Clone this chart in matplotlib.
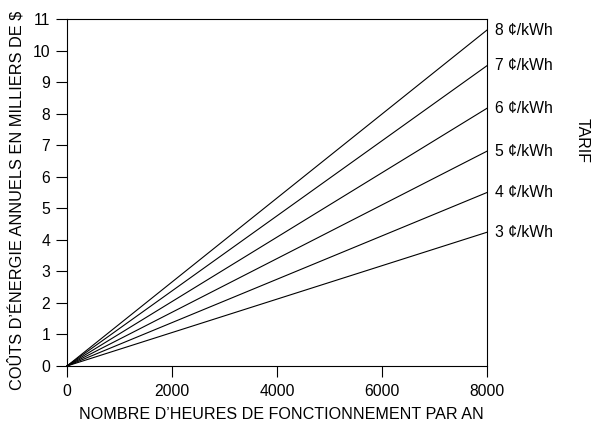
import matplotlib.pyplot as plt

plt.rcParams['font.family'] = ['Liberation Sans', 'DejaVu Sans']

# tarifs en cents/kWh et cout annuel (milliers de $) a 8000 h
tarifs = [3, 4, 5, 6, 7, 8]
couts_8000 = [4.24, 5.50, 6.81, 8.17, 9.52, 10.65]
heures = [0, 8000]

fig = plt.figure(figsize=(5.92, 4.23), dpi=100)
ax = fig.add_axes([67 / 592, 1 - 366 / 423, 420 / 592, 347 / 423])

for t, c in zip(tarifs, couts_8000):
    ax.plot(heures, [0, c], color='black', linewidth=0.8, clip_on=False)
    ax.text(8000 + 150, c, f'{t} ¢/kWh', va='center', ha='left', fontsize=11.3)

ax.set_xlim(0, 8000)
ax.set_ylim(0, 11)
ax.set_xticks([0, 2000, 4000, 6000, 8000])
ax.set_yticks(range(0, 12))
ax.tick_params(direction='out', length=8, width=0.8, labelsize=11.3)
ax.tick_params(axis='x', pad=5)
ax.tick_params(axis='y', pad=4)
for s in ax.spines.values():
    s.set_linewidth(0.8)

ax.set_xlabel("NOMBRE D\u2019HEURES DE FONCTIONNEMENT PAR AN", fontsize=11.6, va='center')
ax.xaxis.set_label_coords(0.51, -0.141)
ax.set_ylabel("COÛTS D\u2019ÉNERGIE ANNUELS EN MILLIERS DE $", fontsize=11.8, va='center')
ax.yaxis.set_label_coords(-0.121, 0.478)
fig.text(582 / 592, 1 - 141 / 423, 'TARIF', rotation=-90, va='center', ha='center', fontsize=11.5)

fig.savefig('out.png', dpi=100)
